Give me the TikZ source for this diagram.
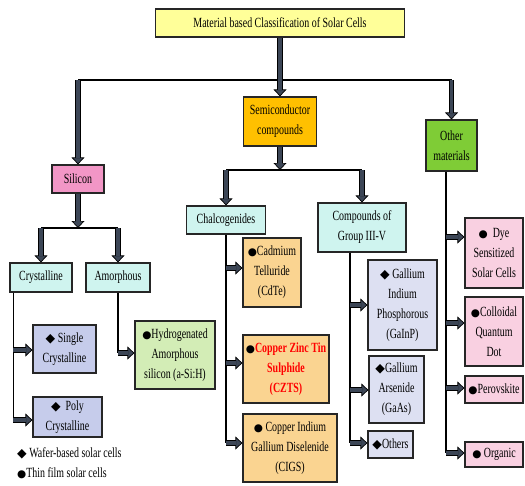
\documentclass[tikz,border=0pt]{standalone}
\usepackage{fontspec}
\setmainfont{Liberation Serif}[FakeStretch=0.71]
\newfontfamily\symfont{DejaVu Sans}
\usetikzlibrary{positioning, arrows.meta}
\definecolor{titleyellow}{HTML}{FFFF99}
\definecolor{semiorange}{HTML}{FFC000}
\definecolor{othergreen}{HTML}{7FCC36}
\definecolor{silpink}{HTML}{F296C6}
\definecolor{groupcyan}{HTML}{CFF4EF}
\definecolor{waferblue}{HTML}{C6CCEB}
\definecolor{waferlilac}{HTML}{DDE0F2}
\definecolor{filmgreen}{HTML}{D3EDB6}
\definecolor{filmorange}{HTML}{FAD491}
\definecolor{otherpink}{HTML}{F9D0E1}
\definecolor{arrowgray}{HTML}{3C4656}
\newcommand\bul{{\symfont\fontsize{10.5}{10}\selectfont ●}}
\newcommand\dia{{\symfont\fontsize{12.5}{10}\selectfont ◆}}
\tikzset{
  cell/.style={
    draw=black!85, line width=1.2pt,
    fill=#1, align=center, inner sep=1pt,
  },
  size/.style 2 args={
    minimum width=#1,
    minimum height=#2,
  },
  trunk/.style={
    draw=black, line width=1.3pt,
  },
  fat/.style={
    draw=black, line width=5.6pt,
    -{Triangle[length=7pt, width=13pt, line width=0.7pt, fill=arrowgray]},
    postaction={draw=arrowgray, line width=3.8pt, -, shorten >=6pt},
  },
}

\begin{document}
\begin{tikzpicture}[x=1pt, y=-1pt, font=\fontsize{14}{20}\selectfont]
\useasboundingbox (0,0) rectangle (525,485);
\node[cell=titleyellow, size={249}{28}] (title) at (280,23) {Material based Classification of Solar Cells};
\node[cell=semiorange, size={73}{49}] (semi) at (280,121.5) {Semiconductor\\compounds};
\node[cell=othergreen, size={51}{51}] (other) at (451.5,145.5) {Other\\materials};
\node[cell=silpink, size={52}{28}] (sil) at (78,179) {Silicon};
\node[cell=groupcyan, size={79}{28}] (chalc) at (226,220) {Chalcogenides};
\node[cell=groupcyan, size={88}{49}] (comp) at (362,227.5) {Compounds of\\Group III-V};
\node[cell=groupcyan, size={62}{29}] (cryst) at (41,277.5) {Crystalline};
\node[cell=groupcyan, size={64}{29}] (amor) at (118,277.5) {Amorphous};

\node[cell=waferblue, size={63}{48}] (single) at (64.5,349) {\dia\ Single\\Crystalline};
\node[cell=waferblue, size={69}{40}] (poly) at (67.5,417) {\dia\ \ Poly\\Crystalline};
\node[cell=filmgreen, size={80}{68}] (hydro) at (175,355) {\bul Hydrogenated\\Amorphous\\silicon (a-Si:H)};
\node[cell=filmorange, size={58}{69}] (cdte) at (272,272.5) {\bul Cadmium\\Telluride\\(CdTe)};
\node[cell=filmorange, size={86}{68}, text=red] (czts) at (286,369) {\textcolor{black}{\bul}\textbf{Copper Zinc Tin}\\\textbf{Sulphide}\\\textbf{(CZTS)}};
\node[cell=filmorange, size={94}{68}] (cigs) at (290,448) {\bul\ Copper Indium\\Gallium Diselenide\\(CIGS)};
\node[cell=waferlilac, size={69}{90}] (gainp) at (402.5,305) {\dia\ Gallium\\Indium\\Phosphorous\\(GaInP)};
\node[cell=waferlilac, size={55}{67}] (gaas) at (396.5,389.5) {\dia Gallium\\Arsenide\\(GaAs)};
\node[cell=waferlilac, size={45}{27}] (others) at (390.5,444.5) {\dia Others};
\node[cell=otherpink, size={58}{70}] (dye) at (494,253) {\bul\ \ Dye\\Sensitized\\Solar Cells};
\node[cell=otherpink, size={58}{69}] (coll) at (494,331.5) {\bul Colloidal\\Quantum\\Dot};
\node[cell=otherpink, size={58}{27}] (perov) at (494,389.5) {\bul Perovskite};
\node[cell=otherpink, size={58}{25}] (org) at (494,454.5) {\bul\ Organic};

\node[anchor=west, inner sep=0] (wafer) at (17,453) {\dia\ Wafer-based solar cells};
\node[anchor=west, inner sep=0] (film) at (17,473) {\bul Thin film solar cells};

\coordinate (bar) at (0,80);
\coordinate (fork) at (0,170);
\coordinate (split) at (0,228);
\draw[trunk] (bar -| sil.north) -- (bar -| other.north);
\draw[fat] (title) -- (semi);
\draw[fat] (bar -| sil.north) -- (sil);
\draw[fat] (bar -| other.north) -- (other);

\draw[trunk] (fork -| chalc.north) -- (fork -| comp.north);
\draw[fat] (semi) -- (semi |- fork);
\draw[fat] (fork -| chalc.north) -- (chalc);
\draw[fat] (fork -| comp.north) -- (comp);

\draw[trunk] (split -| cryst.north) -- (split -| amor.north);
\draw[fat] (sil) -- (sil |- split);
\draw[fat] (split -| cryst.north) -- (cryst);
\draw[fat] (split -| amor.north) -- (amor);

\coordinate (cl) at ([xshift=4]cryst.south west);
\coordinate (gl) at ([xshift=-12]comp.south);
\coordinate (ol) at ([xshift=-5.5]other.south);

\draw[trunk] (cl) -- (cl |- 0,420);
\foreach \n/\y in {single/350, poly/420}
  \draw[fat] (cl |- 0,\y) -- (\n.west |- 0,\y);

\draw[trunk] (amor.south) -- (amor.south |- 0,353);
\draw[fat] (amor.south |- 0,353) -- (hydro.west |- 0,353);

\draw[trunk] (chalc.south) -- (chalc.south |- 0,443);
\foreach \n/\y in {cdte/268, czts/363, cigs/443}
  \draw[fat] (chalc.south |- 0,\y) -- (\n.west |- 0,\y);

\draw[trunk] (gl) -- (gl |- 0,443);
\foreach \n/\y in {gainp/305, gaas/390, others/443}
  \draw[fat] (gl |- 0,\y) -- (\n.west |- 0,\y);

\draw[trunk] (ol) -- (ol |- 0,453);
\foreach \n/\y in {dye/237, coll/323, perov/388, org/453}
  \draw[fat] (ol |- 0,\y) -- (\n.west |- 0,\y);
\end{tikzpicture}
\end{document}
